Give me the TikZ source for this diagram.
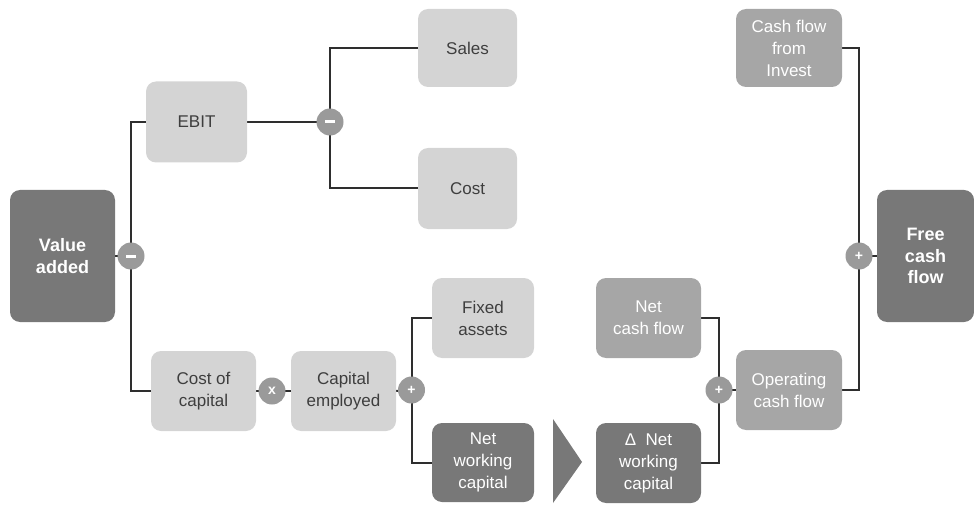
\documentclass[tikz,border=0pt]{standalone}
\usepackage{fontspec}
\setmainfont{Liberation Sans}
\usetikzlibrary{backgrounds}
\definecolor{lightbox}{HTML}{D4D4D4}
\definecolor{midbox}{HTML}{A6A6A6}
\definecolor{darkbox}{HTML}{787878}
\definecolor{optxt}{HTML}{3E3E3E}
\definecolor{opcirc}{HTML}{9A9A9A}
\definecolor{linec}{HTML}{2E2E2E}
\tikzset{
  box/.style={rectangle, rounded corners=10pt, inner sep=0pt, align=center,
    font=\fontsize{17}{22}\selectfont},
  lightnode/.style={box, fill=lightbox, text=optxt},
  midnode/.style={box, fill=midbox, text=white},
  darknode/.style={box, fill=darkbox, text=white},
  darkbold/.style={box, fill=darkbox, text=white, font=\fontsize{18}{21.5}\selectfont\bfseries},
  opnode/.style={circle, fill=opcirc, text=white, minimum size=27pt, inner sep=0pt,
    font=\fontsize{14}{14}\selectfont\bfseries},
  conn/.style={draw=linec, line width=2pt}
}
\newcommand{\minusbar}{\rule[-1.5pt]{10pt}{3pt}}
\begin{document}
\begin{tikzpicture}[x=1pt,y=-1pt]
\useasboundingbox (0,0) rectangle (974,505);
% boxes
\node[lightnode, minimum width=99pt, minimum height=78pt] (sales) at (467.5,48) {Sales};
\node[lightnode, minimum width=101pt, minimum height=81pt] (ebit) at (196.5,122) {EBIT};
\node[lightnode, minimum width=99pt, minimum height=81pt] (cost) at (467.5,188.5) {Cost};
\node[darkbold, minimum width=105pt, minimum height=132pt] (va) at (62.5,256) {Value\\added};
\node[lightnode, minimum width=105pt, minimum height=80pt] (coc) at (203.5,391) {Cost of\\capital};
\node[lightnode, minimum width=105pt, minimum height=80pt] (ce) at (343.5,391) {Capital\\employed};
\node[lightnode, minimum width=102pt, minimum height=80pt] (fa) at (483,318) {Fixed\\assets};
\node[darknode, minimum width=102pt, minimum height=79pt] (nwc) at (483,462.5) {Net\\working\\capital};
\node[midnode, minimum width=106pt, minimum height=78pt] (cfi) at (789,48) {Cash flow\\from\\Invest};
\node[midnode, minimum width=105pt, minimum height=80pt] (ncf) at (648.5,318) {Net\\cash flow};
\node[midnode, minimum width=106pt, minimum height=80pt] (ocf) at (789,390) {Operating\\cash flow};
\node[darknode, minimum width=105pt, minimum height=80pt] (dnwc) at (648.5,463) {Δ\ \ Net\\working\\capital};
\node[darkbold, minimum width=97pt, minimum height=132pt] (fcf) at (925.5,256) {Free\\cash\\flow};
% operators
\node[opnode] (m1) at (131,256) {\minusbar};
\node[opnode] (m2) at (330,122) {\minusbar};
\node[opnode] (x1) at (272,391) {x};
\node[opnode] (p1) at (411.5,390) {+};
\node[opnode] (p2) at (719,390) {+};
\node[opnode] (p3) at (859,256) {+};
% transfer arrow
\fill[darkbox] (553,419) -- (582,462) -- (553,503) -- cycle;
% connectors
\begin{pgfonlayer}{background}
\draw[conn] (va.east) -- (m1.center);
\draw[conn] (ebit.west) -| (m1.center);
\draw[conn] (coc.west) -| (m1.center);
\draw[conn] (ebit.east) -- (m2.center);
\draw[conn] (sales.west) -| (m2.center);
\draw[conn] (cost.west) -| (m2.center);
\draw[conn] (coc.east) -- (x1.center);
\draw[conn] (x1.center) -- (ce.west);
\draw[conn] (ce.east) -- (p1.center);
\draw[conn] (fa.west) -| (p1.center);
\draw[conn] (nwc.west) -| (p1.center);
\draw[conn] (ncf.east) -| (p2.center);
\draw[conn] (dnwc.east) -| (p2.center);
\draw[conn] (p2.center) -- (ocf.west);
\draw[conn] (ocf.east) -| (p3.center);
\draw[conn] (cfi.east) -| (p3.center);
\draw[conn] (p3.center) -- (fcf.west);
\end{pgfonlayer}
\end{tikzpicture}
\end{document}
